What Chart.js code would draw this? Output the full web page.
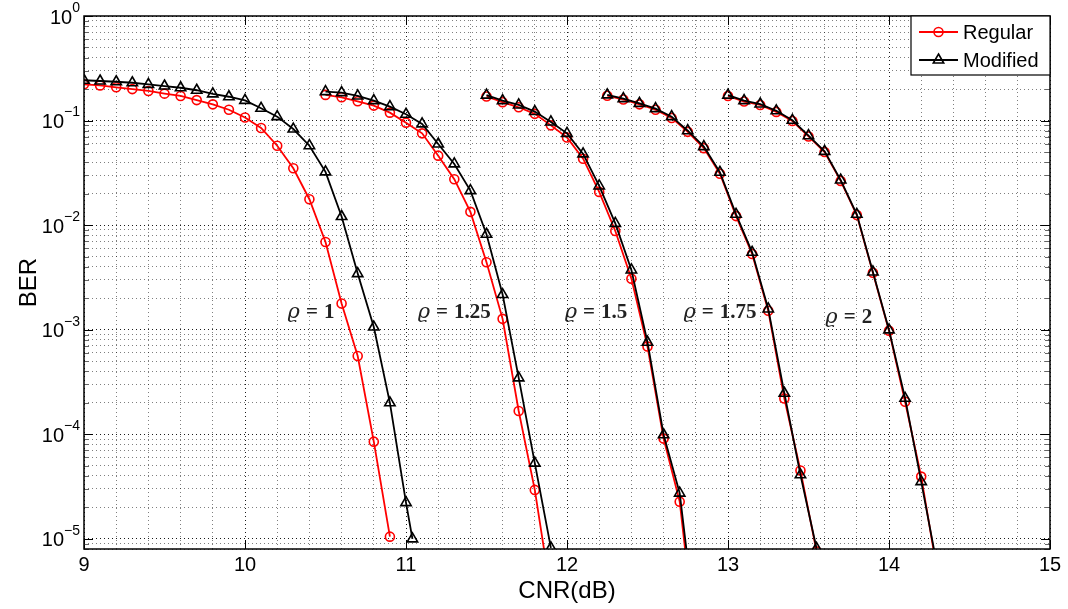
<!DOCTYPE html>
<html>
<head>
<meta charset="utf-8">
<script src="https://cdn.jsdelivr.net/npm/chart.js@4/dist/chart.umd.min.js"></script>
<style>
  html, body { margin: 0; padding: 0; background: #fff; }
</style>
</head>
<body>
<canvas id="berChart" width="1068" height="609"></canvas>
<script>
// axis ticks
const xLabelTicks = [9, 10, 11, 12, 13, 14, 15];
const yLabelTicks = [1e-5, 1e-4, 1e-3, 1e-2, 1e-1, 1];

// rho = 1
const cnrRho1Reg = [9.0, 9.1, 9.2, 9.3, 9.4, 9.5, 9.6, 9.7, 9.8, 9.9, 10.0, 10.1, 10.2, 10.3, 10.4, 10.5, 10.6, 10.7, 10.8, 10.9];
const berRho1Reg = [0.222, 0.217, 0.208, 0.200, 0.192, 0.181, 0.172, 0.157, 0.143, 0.127, 0.107, 0.085, 0.0575, 0.035, 0.0177, 0.0069, 0.00178, 5.6e-4, 8.5e-5, 1.05e-5];
const cnrRho1Mod = [9.0, 9.1, 9.2, 9.3, 9.4, 9.5, 9.6, 9.7, 9.8, 9.9, 10.0, 10.1, 10.2, 10.3, 10.4, 10.5, 10.6, 10.7, 10.8, 10.9, 11.0, 11.04];
const berRho1Mod = [0.243, 0.239, 0.235, 0.230, 0.222, 0.214, 0.206, 0.195, 0.180, 0.169, 0.156, 0.131, 0.109, 0.083, 0.0575, 0.0323, 0.0121, 0.00344, 0.00106, 2.0e-4, 2.22e-5, 1.0e-5];

// rho = 1.25
const cnrRho125 = [10.5, 10.6, 10.7, 10.8, 10.9, 11.0, 11.1, 11.2, 11.3, 11.4, 11.5, 11.6, 11.7, 11.8, 11.9];
const berRho125Reg = [0.176, 0.167, 0.153, 0.139, 0.119, 0.0955, 0.0755, 0.0462, 0.0275, 0.0134, 0.00442, 0.00127, 1.67e-4, 2.94e-5, 3e-6];
const berRho125Mod = [0.189, 0.185, 0.172, 0.155, 0.136, 0.115, 0.093, 0.0597, 0.0385, 0.0214, 0.00818, 0.00217, 3.46e-4, 5.3e-5, 8.2e-6];

// rho = 1.5
const cnrRho15 = [11.5, 11.6, 11.7, 11.8, 11.9, 12.0, 12.1, 12.2, 12.3, 12.4, 12.5, 12.6, 12.7, 12.8];
const berRho15Reg = [0.170, 0.150, 0.134, 0.116, 0.090, 0.069, 0.0432, 0.0208, 0.0088, 0.00308, 6.9e-4, 9.1e-5, 2.27e-5, 1.0e-6];
const berRho15Mod = [0.175, 0.155, 0.141, 0.122, 0.097, 0.0755, 0.048, 0.0237, 0.0104, 0.00373, 7.6e-4, 9.9e-5, 2.74e-5, 1.4e-6];

// rho = 1.75
const cnrRho175 = [12.25, 12.35, 12.45, 12.55, 12.65, 12.75, 12.85, 12.95, 13.05, 13.15, 13.25, 13.35, 13.45, 13.55];
const berRho175Reg = [0.173, 0.159, 0.143, 0.127, 0.106, 0.078, 0.0545, 0.031, 0.0122, 0.0053, 0.00152, 2.2e-4, 4.5e-5, 7.6e-6];
const berRho175Mod = [0.176, 0.162, 0.146, 0.130, 0.109, 0.080, 0.0563, 0.032, 0.0127, 0.0055, 0.00158, 2.47e-4, 4.1e-5, 8.1e-6];

// rho = 2
const cnrRho2 = [13.0, 13.1, 13.2, 13.3, 13.4, 13.5, 13.6, 13.7, 13.8, 13.9, 14.0, 14.1, 14.2, 14.3];
const berRho2Reg = [0.172, 0.152, 0.141, 0.121, 0.099, 0.0705, 0.050, 0.0265, 0.0125, 0.0035, 9.8e-4, 2.05e-4, 3.94e-5, 4.8e-6];
const berRho2Mod = [0.175, 0.155, 0.144, 0.124, 0.1006, 0.0717, 0.0508, 0.027, 0.0127, 0.00357, 9.96e-4, 2.21e-4, 3.53e-5, 5.4e-6];

// curve annotations
const rhoLabels = ['1', '1.25', '1.5', '1.75', '2'];
const rhoLabelX = [10.41, 11.30, 12.18, 12.95, 13.75];
const rhoLabelY = [1.48e-3, 1.5e-3, 1.5e-3, 1.5e-3, 1.35e-3];

// one dataset per legend entry, curves separated by a null point
function joinCurves(curves) {
  const out = [];
  curves.forEach(([xs, ys], k) => {
    if (k > 0) out.push({ x: xs[0], y: null });
    xs.forEach((v, i) => out.push({ x: v, y: ys[i] }));
  });
  return out;
}

const regularPts = joinCurves([
  [cnrRho1Reg, berRho1Reg], [cnrRho125, berRho125Reg], [cnrRho15, berRho15Reg],
  [cnrRho175, berRho175Reg], [cnrRho2, berRho2Reg]
]);
const modifiedPts = joinCurves([
  [cnrRho1Mod, berRho1Mod], [cnrRho125, berRho125Mod], [cnrRho15, berRho15Mod],
  [cnrRho175, berRho175Mod], [cnrRho2, berRho2Mod]
]);

// grid positions: minor every 0.2 dB, 1..9 per decade
const xGridValues = [];
xLabelTicks.forEach(v => {
  xGridValues.push(v);
  if (v < 15) [0.2, 0.4, 0.6, 0.8].forEach(d => xGridValues.push(+(v + d).toFixed(1)));
});
const yGridValues = [];
for (let e = -6; e <= 0; e++) {
  for (let m = 1; m <= 9; m++) {
    const v = m * Math.pow(10, e);
    if (v >= 8e-6 * 0.999 && v <= 1.0001) yGridValues.push(v);
  }
}

const isIntX = v => Math.abs(v - Math.round(v)) < 1e-6;
const isDecade = v => Math.abs(Math.log10(v) - Math.round(Math.log10(v))) < 1e-6;
const sansFont = '"Liberation Sans", Arial, Helvetica, sans-serif';

const berDecor = {
  id: 'berDecor',
  afterDraw(chart) {
    const { ctx, chartArea: a, scales: { x, y } } = chart;
    ctx.save();

    // inward tick marks
    ctx.lineWidth = 1;
    ctx.strokeStyle = '#000';
    ctx.beginPath();
    xLabelTicks.forEach(v => {
      const px = Math.round(x.getPixelForValue(v)) + 0.5;
      ctx.moveTo(px, a.bottom); ctx.lineTo(px, a.bottom - 9);
      ctx.moveTo(px, a.top); ctx.lineTo(px, a.top + 9);
    });
    ctx.stroke();
    yGridValues.forEach(v => {
      const py = Math.round(y.getPixelForValue(v)) + 0.5;
      const len = isDecade(v) ? 9 : 5;
      ctx.strokeStyle = isDecade(v) ? '#000' : '#666';
      ctx.beginPath();
      ctx.moveTo(a.left, py); ctx.lineTo(a.left + len, py);
      ctx.moveTo(a.right, py); ctx.lineTo(a.right - len, py);
      ctx.stroke();
    });

    // box
    ctx.strokeStyle = '#000';
    ctx.lineWidth = 1.5;
    ctx.strokeRect(a.left, a.top, a.right - a.left, a.bottom - a.top);

    // y tick labels 10^n
    ctx.fillStyle = '#000';
    ctx.textAlign = 'left';
    ctx.textBaseline = 'middle';
    yLabelTicks.forEach(v => {
      const py = y.getPixelForValue(v);
      const e = Math.round(Math.log10(v));
      const expText = e === 0 ? '0' : '\u2212' + (-e);
      ctx.font = '14px ' + sansFont;
      const w2 = ctx.measureText(expText).width;
      ctx.font = '20px ' + sansFont;
      const w1 = ctx.measureText('10').width;
      const xr = a.left - 4;
      ctx.fillText('10', xr - w2 - w1, py + 2);
      ctx.font = '14px ' + sansFont;
      ctx.fillText(expText, xr - w2, py - 8);
    });

    // rho annotations
    ctx.fillStyle = '#222';
    rhoLabels.forEach((txt, i) => {
      const cx = x.getPixelForValue(rhoLabelX[i]);
      const cy = y.getPixelForValue(rhoLabelY[i]);
      const parts = [
        ['\u03F1', 'italic 21px "DejaVu Serif", "Liberation Serif", serif', 6],
        ['=', 'bold 21px "Liberation Serif", "DejaVu Serif", serif', 6],
        [txt, 'bold 21px "Liberation Serif", "DejaVu Serif", serif', 0]
      ];
      let total = 0;
      parts.forEach(p => { ctx.font = p[1]; p.push(ctx.measureText(p[0]).width); total += p[3] + p[2]; });
      let px = cx - total / 2;
      parts.forEach(p => {
        ctx.font = p[1];
        ctx.fillText(p[0], px, cy + 1);
        px += p[3] + p[2];
      });
    });

    // legend
    const lw = 139, lh = 59;
    const lx = a.right - lw, ly = a.top;
    ctx.fillStyle = '#fff';
    ctx.fillRect(lx, ly, lw, lh);
    ctx.strokeStyle = '#000';
    ctx.lineWidth = 1.2;
    ctx.strokeRect(lx, ly, lw, lh);
    chart.data.datasets.forEach((ds, i) => {
      const yy = ly + 16 + i * 28;
      ctx.strokeStyle = ds.borderColor;
      ctx.lineWidth = ds.borderWidth;
      ctx.beginPath();
      ctx.moveTo(lx + 8, yy); ctx.lineTo(lx + 47, yy);
      ctx.stroke();
      ctx.fillStyle = 'rgba(0,0,0,0)';
      ctx.lineWidth = ds.pointBorderWidth;
      Chart.helpers.drawPoint(ctx, {
        pointStyle: ds.pointStyle, radius: ds.pointRadius,
        borderWidth: ds.pointBorderWidth, rotation: 0
      }, lx + 27.5, yy);
      ctx.fillStyle = '#000';
      ctx.font = '20px ' + sansFont;
      ctx.textBaseline = 'middle';
      ctx.fillText(ds.label, lx + 52, yy + 1);
    });

    ctx.restore();
  }
};

new Chart(document.getElementById('berChart'), {
  type: 'line',
  data: {
    datasets: [
      {
        label: 'Regular',
        data: regularPts,
        borderColor: '#ff0000',
        backgroundColor: '#ff0000',
        borderWidth: 1.8,
        pointStyle: 'circle',
        pointRadius: 4.5,
        pointBorderWidth: 1.6,
        pointBorderColor: '#ff0000',
        pointBackgroundColor: 'rgba(0,0,0,0)',
        spanGaps: false,
        tension: 0,
        order: 2
      },
      {
        label: 'Modified',
        data: modifiedPts,
        borderColor: '#000000',
        backgroundColor: '#000000',
        borderWidth: 1.8,
        pointStyle: 'triangle',
        pointRadius: 6,
        pointBorderWidth: 1.6,
        pointBorderColor: '#000000',
        pointBackgroundColor: 'rgba(0,0,0,0)',
        spanGaps: false,
        tension: 0,
        order: 1
      }
    ]
  },
  options: {
    responsive: false,
    animation: false,
    events: [],
    layout: { padding: { top: 16, right: 18, left: 0, bottom: 0 } },
    plugins: {
      legend: { display: false },
      tooltip: { enabled: false }
    },
    scales: {
      x: {
        type: 'linear',
        min: 9,
        max: 15,
        afterBuildTicks: s => { s.ticks = xGridValues.map(v => ({ value: v })); },
        afterFit: s => { s.height = 60; },
        ticks: {
          autoSkip: false,
          maxRotation: 0,
          padding: 4,
          color: '#000',
          font: { family: sansFont, size: 20 },
          callback: v => (isIntX(v) ? String(Math.round(v)) : '')
        },
        grid: {
          drawTicks: false,
          color: c => (isIntX(c.tick.value) ? 'rgba(0,0,0,0.9)' : 'rgba(0,0,0,0.5)'),
          lineWidth: 1
        },
        border: { display: false, dash: [1, 3] },
        title: {
          display: true,
          text: 'CNR(dB)',
          color: '#000',
          font: { family: sansFont, size: 24 },
          padding: { top: 3, bottom: 3 }
        }
      },
      y: {
        type: 'logarithmic',
        min: 8e-6,
        max: 1,
        afterBuildTicks: s => { s.ticks = yGridValues.map(v => ({ value: v })); },
        afterFit: s => { s.width = 84; },
        ticks: { display: false },
        grid: {
          drawTicks: false,
          color: c => (isDecade(c.tick.value) ? 'rgba(0,0,0,0.9)' : 'rgba(0,0,0,0.5)'),
          lineWidth: 1
        },
        border: { display: false, dash: [1, 3] },
        title: {
          display: true,
          text: 'BER',
          color: '#000',
          font: { family: sansFont, size: 24 },
          padding: { top: 15, bottom: 0 }
        }
      }
    }
  },
  plugins: [berDecor]
});
</script>
</body>
</html>
